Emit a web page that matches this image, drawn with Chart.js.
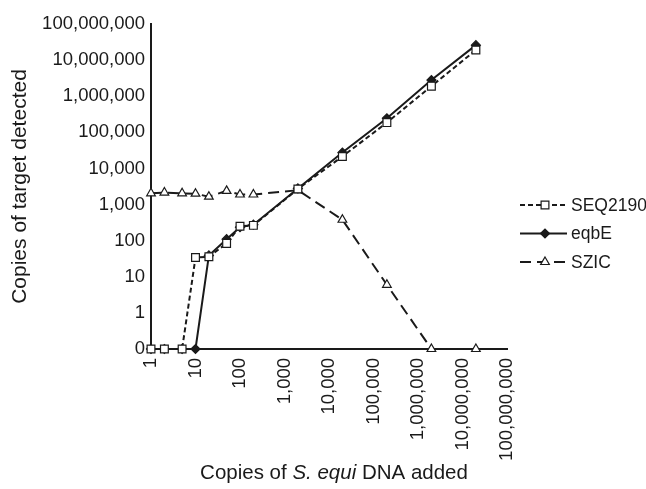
<!DOCTYPE html>
<html>
<head>
<meta charset="utf-8">
<script src="https://cdn.jsdelivr.net/npm/chart.js"></script>
<style>
  html, body { margin: 0; padding: 0; background: #ffffff; }
  #wrap { position: relative; width: 646px; height: 489px; }
</style>
</head>
<body>
<div id="wrap"><canvas id="chart"></canvas></div>
<script>
// ─── Data ─────────────────────────────────────────────────────────────────────

// copies of S. equi DNA added (x)
const copiesAdded = [1, 2, 5, 10, 20, 50, 100, 200, 2000, 20000, 200000, 2000000, 20000000];

// copies of target detected (y) — 0 is drawn on the "0" row of the log axis
const seq2190 = [0, 0, 0, 34, 36, 84, 250, 265, 2700, 21500, 186000, 1900000, 19000000];
const eqbE    = [0, 0, 0, 0, 39, 110, 235, 277, 2800, 27500, 245000, 2800000, 26000000];
const szic    = [2050, 2150, 2050, 2000, 1650, 2400, 1900, 1900, 2500, 380, 6, 0, 0];

const seriesNames = ['SEQ2190', 'eqbE', 'SZIC'];

const xTickValues = [1, 10, 100, 1000, 10000, 100000, 1000000, 10000000, 100000000];
const yTickValues = [0, 1, 10, 100, 1000, 10000, 100000, 1000000, 10000000, 100000000];

const xTitleParts = [
  { text: 'Copies of ', italic: false },
  { text: 'S. equi',    italic: true  },
  { text: ' DNA added', italic: false },
];
const yTitle = 'Copies of target detected';

// ─── Config ───────────────────────────────────────────────────────────────────

const ZERO_AT = 0.1;             // where "0" sits on the log axis
const INK     = '#1a1a1a';
const FAMILY  = "'Liberation Sans', Arial, Helvetica, sans-serif";

const LEGEND = {
  lineX0: 520, lineX1: 567, markerX: 545, textX: 571,
  top: 205, rowGap: 28.5, fontSize: 17.5,
};

Chart.defaults.font.family = FAMILY;
Chart.defaults.color = INK;

const plotY = v => (v === 0 ? ZERO_AT : v);
const toPoints = values => copiesAdded.map((x, i) => ({ x, y: plotY(values[i]) }));
const fmt = v => Number(v).toLocaleString('en-US');

// ─── Plugins ──────────────────────────────────────────────────────────────────

// Excel-style legend: line segment with the marker in the middle
const excelLegend = {
  id: 'excelLegend',
  afterDraw(chart) {
    const { ctx } = chart;
    chart.data.datasets.forEach((ds, i) => {
      const y = LEGEND.top + i * LEGEND.rowGap;
      ctx.save();
      ctx.strokeStyle = ds.borderColor;
      ctx.lineWidth   = ds.borderWidth;
      ctx.setLineDash(ds.borderDash || []);
      ctx.beginPath();
      ctx.moveTo(LEGEND.lineX0, y);
      ctx.lineTo(LEGEND.lineX1, y);
      ctx.stroke();
      ctx.setLineDash([]);

      ctx.fillStyle   = ds.pointBackgroundColor;
      ctx.strokeStyle = ds.pointBorderColor;
      ctx.lineWidth   = ds.pointBorderWidth;
      Chart.helpers.drawPoint(ctx, {
        pointStyle: ds.pointStyle, radius: ds.pointRadius,
        borderWidth: ds.pointBorderWidth, rotation: 0,
      }, LEGEND.markerX, y);

      ctx.fillStyle    = INK;
      ctx.font         = `${LEGEND.fontSize}px ${FAMILY}`;
      ctx.textAlign    = 'left';
      ctx.textBaseline = 'middle';
      ctx.fillText(ds.label, LEGEND.textX, y + 1);
      ctx.restore();
    });
  },
};

// x title with the italic species name
const xTitlePlugin = {
  id: 'xTitle',
  afterDraw(chart) {
    const { ctx } = chart;
    const size = 20.5;
    const cx = 334, baseY = 479;
    ctx.save();
    ctx.fillStyle = INK;
    ctx.textBaseline = 'alphabetic';
    ctx.textAlign = 'left';
    const fontOf = p => `${p.italic ? 'italic ' : ''}${size}px ${FAMILY}`;
    let total = 0;
    xTitleParts.forEach(p => { ctx.font = fontOf(p); total += ctx.measureText(p.text).width; });
    let x = cx - total / 2;
    xTitleParts.forEach(p => {
      ctx.font = fontOf(p);
      ctx.fillText(p.text, x, baseY);
      x += ctx.measureText(p.text).width;
    });
    ctx.restore();
  },
};

// ─── Chart ────────────────────────────────────────────────────────────────────

const seriesValues = [seq2190, eqbE, szic];
const seriesStyle = [
  { dash: [5, 3],  point: 'rect',     r: 5.5, fill: '#ffffff' },
  { dash: [],      point: 'rectRot',  r: 4.5, fill: INK },
  { dash: [11, 6], point: 'triangle', r: 5,   fill: '#ffffff' },
];

new Chart(document.getElementById('chart'), {
  type: 'line',
  data: {
    datasets: seriesNames.map((name, i) => ({
      label: name,
      data: toPoints(seriesValues[i]),
      borderColor: INK,
      borderWidth: 2,
      borderDash: seriesStyle[i].dash,
      pointStyle: seriesStyle[i].point,
      pointRadius: seriesStyle[i].r,
      pointHoverRadius: seriesStyle[i].r,
      pointBackgroundColor: seriesStyle[i].fill,
      pointBorderColor: INK,
      pointBorderWidth: 1.2,
      tension: 0,
      clip: false,
    })),
  },
  options: {
    responsive: true,
    maintainAspectRatio: false,
    animation: false,
    layout: { padding: { top: 24, right: 139, bottom: 0, left: 0 } },
    plugins: {
      legend:  { display: false },
      tooltip: { enabled: false },
    },
    scales: {
      x: {
        type: 'logarithmic',
        min: xTickValues[0],
        max: xTickValues[xTickValues.length - 1],
        grid:   { display: false, drawTicks: false },
        border: { display: true, color: INK, width: 2 },
        ticks: {
          font: { size: 18.5 },
          color: INK,
          minRotation: 90,
          maxRotation: 90,
          padding: 9,
          autoSkip: false,
          callback: v => fmt(v),
        },
        afterBuildTicks(scale) {
          scale.ticks = xTickValues.map(v => ({ value: v }));
        },
        afterFit(scale) { scale.height = 140; },
      },
      y: {
        type: 'logarithmic',
        min: ZERO_AT,
        max: yTickValues[yTickValues.length - 1],
        grid:   { display: false, drawTicks: false },
        border: { display: true, color: INK, width: 2 },
        ticks: {
          font: { size: 18.5 },
          color: INK,
          padding: 6,
          autoSkip: false,
          callback: v => (v === ZERO_AT ? '0' : fmt(v)),
        },
        title: {
          display: true,
          text: yTitle,
          font: { size: 21 },
          color: INK,
          padding: { top: 8, bottom: 0 },
        },
        afterBuildTicks(scale) {
          scale.ticks = yTickValues.map(v => ({ value: plotY(v) }));
        },
        afterFit(scale) { scale.width = 151; },
      },
    },
  },
  plugins: [excelLegend, xTitlePlugin],
});
</script>
</body>
</html>
